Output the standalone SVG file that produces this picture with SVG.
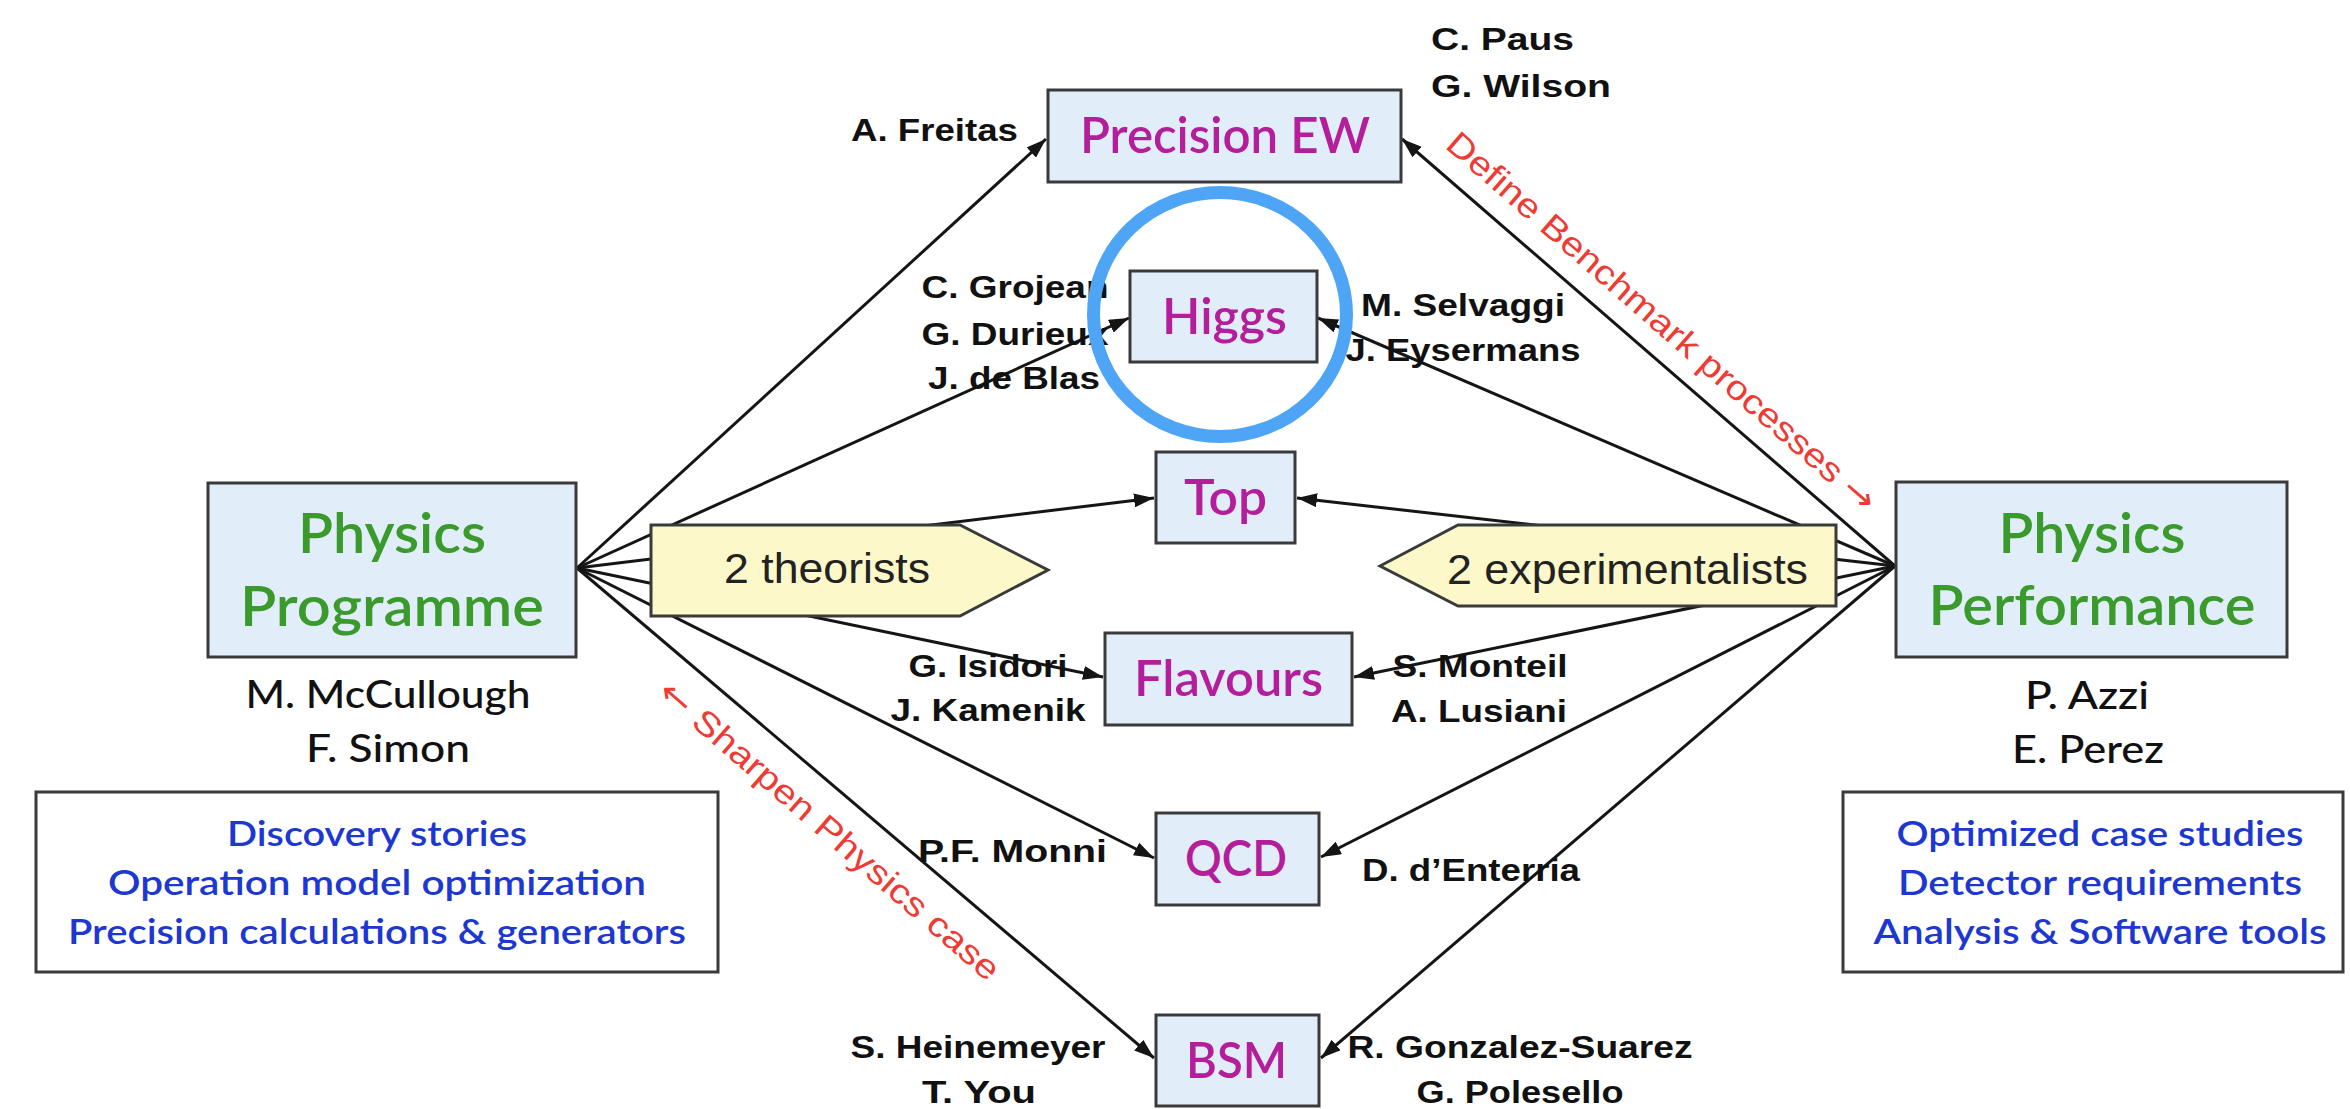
<svg xmlns="http://www.w3.org/2000/svg" width="2350" height="1109" viewBox="0 0 2350 1109">
<defs>
<marker id="ah" viewBox="0 0 20 14" refX="20" refY="7" markerWidth="20" markerHeight="14" markerUnits="userSpaceOnUse" orient="auto">
<path d="M0,0 L20,7 L0,14 z" fill="#151515"/>
</marker>
<style>
.box{fill:#E1EEFA;stroke:#3a3a3a;stroke-width:3}
.note-box{fill:#ffffff;stroke:#3a3a3a;stroke-width:3}
.hex{fill:#FCF8C9;stroke:#3a3a3a;stroke-width:3}
.lbl{font-family:Lato,"Open Sans",sans-serif;fill:#B41E9B;text-anchor:middle;font-size:49px;font-weight:600}
.main{font-family:Lato,"Open Sans",sans-serif;fill:#3A9A2C;text-anchor:middle;font-size:56px;font-weight:600}
.name{font-family:"Liberation Sans",Arial,sans-serif;font-weight:bold;font-size:32px;fill:#111}
.mid{text-anchor:middle}
.lead{font-family:Lato,"Open Sans",sans-serif;font-size:39px;fill:#111;text-anchor:middle;font-weight:500}
.note{font-family:Lato,"Open Sans",sans-serif;font-size:35px;fill:#1C37D2;text-anchor:middle;font-weight:600}
.red{font-family:"Liberation Sans",Arial,sans-serif;font-size:34px;fill:#EE3B33}
.arr{font-family:"DejaVu Sans",sans-serif}
.hext{font-family:"Liberation Sans",Arial,sans-serif;font-size:43px;fill:#222}
.con line{stroke:#151515;stroke-width:3;marker-end:url(#ah)}
</style>
</defs>
<rect width="2350" height="1109" fill="#ffffff"/>

<g id="connectors" class="con">
<line x1="577" y1="568" x2="1046" y2="139"/>
<line x1="577" y1="568" x2="1129" y2="318"/>
<line x1="577" y1="568" x2="1154" y2="498"/>
<line x1="577" y1="568" x2="1103" y2="677"/>
<line x1="577" y1="568" x2="1154" y2="858"/>
<line x1="577" y1="568" x2="1154" y2="1058"/>
<line x1="1895" y1="566" x2="1402" y2="139"/>
<line x1="1895" y1="566" x2="1318" y2="318"/>
<line x1="1895" y1="566" x2="1297" y2="498"/>
<line x1="1895" y1="566" x2="1354" y2="677"/>
<line x1="1895" y1="566" x2="1321" y2="857"/>
<line x1="1895" y1="566" x2="1321" y2="1058"/>
</g>

<g id="theorists">
<polygon class="hex" points="651,525 960,525 1048,570 960,616 651,616"/>
<text class="hext" x="724" y="583" textLength="206" lengthAdjust="spacingAndGlyphs">2 theorists</text>
</g>
<g id="experimentalists">
<polygon class="hex" points="1380,566 1458,525 1836,525 1836,606 1458,606"/>
<text class="hext" x="1447" y="584" textLength="361" lengthAdjust="spacingAndGlyphs">2 experimentalists</text>
</g>

<g id="physics-programme">
<rect class="box" x="208" y="483" width="368" height="174"/>
<text class="main" x="392" y="553" textLength="188" lengthAdjust="spacingAndGlyphs">Physics</text>
<text class="main" x="392" y="626" textLength="304" lengthAdjust="spacingAndGlyphs">Programme</text>
<text class="lead" x="388" y="708" textLength="285" lengthAdjust="spacingAndGlyphs">M. McCullough</text>
<text class="lead" x="388" y="762" textLength="164" lengthAdjust="spacingAndGlyphs">F. Simon</text>
</g>

<g id="physics-performance">
<rect class="box" x="1896" y="482" width="391" height="175"/>
<text class="main" x="2092" y="553" textLength="187" lengthAdjust="spacingAndGlyphs">Physics</text>
<text class="main" x="2092" y="625" textLength="327" lengthAdjust="spacingAndGlyphs">Performance</text>
<text class="lead" x="2087" y="709" textLength="124" lengthAdjust="spacingAndGlyphs">P. Azzi</text>
<text class="lead" x="2088" y="763" textLength="152" lengthAdjust="spacingAndGlyphs">E. Perez</text>
</g>

<g id="programme-tasks">
<rect class="note-box" x="36" y="792" width="682" height="180"/>
<text class="note" x="377" y="846" textLength="300" lengthAdjust="spacingAndGlyphs">Discovery stories</text>
<text class="note" x="377" y="895" textLength="538" lengthAdjust="spacingAndGlyphs">Operation model optimization</text>
<text class="note" x="377" y="944" textLength="618" lengthAdjust="spacingAndGlyphs">Precision calculations &amp; generators</text>
</g>

<g id="performance-tasks">
<rect class="note-box" x="1843" y="792" width="500" height="180"/>
<text class="note" x="2100" y="846" textLength="407" lengthAdjust="spacingAndGlyphs">Optimized case studies</text>
<text class="note" x="2100" y="895" textLength="404" lengthAdjust="spacingAndGlyphs">Detector requirements</text>
<text class="note" x="2100" y="944" textLength="453" lengthAdjust="spacingAndGlyphs">Analysis &amp; Software tools</text>
</g>

<g id="precision-ew">
<rect class="box" x="1048" y="90" width="353" height="92"/>
<text class="lbl" x="1225" y="153" textLength="290" lengthAdjust="spacingAndGlyphs">Precision EW</text>
<text class="name" x="851" y="141" textLength="167" lengthAdjust="spacingAndGlyphs">A. Freitas</text>
<text class="name" x="1431" y="50" textLength="143" lengthAdjust="spacingAndGlyphs">C. Paus</text>
<text class="name" x="1431" y="97" textLength="180" lengthAdjust="spacingAndGlyphs">G. Wilson</text>
</g>

<g id="higgs">
<rect class="box" x="1130" y="271" width="187" height="91"/>
<text class="lbl" x="1224.5" y="334" textLength="125" lengthAdjust="spacingAndGlyphs">Higgs</text>
<text class="name mid" x="1015" y="298" textLength="187" lengthAdjust="spacingAndGlyphs">C. Grojean</text>
<text class="name mid" x="1015" y="345" textLength="187" lengthAdjust="spacingAndGlyphs">G. Durieux</text>
<text class="name mid" x="1014" y="389" textLength="172" lengthAdjust="spacingAndGlyphs">J. de Blas</text>
<text class="name mid" x="1463" y="316" textLength="204" lengthAdjust="spacingAndGlyphs">M. Selvaggi</text>
<text class="name mid" x="1463" y="361" textLength="235" lengthAdjust="spacingAndGlyphs">J. Eysermans</text>
</g>

<g id="top">
<rect class="box" x="1156" y="452" width="139" height="91"/>
<text class="lbl" x="1225.5" y="515" textLength="83" lengthAdjust="spacingAndGlyphs">Top</text>
</g>

<g id="flavours">
<rect class="box" x="1105" y="633" width="247" height="92"/>
<text class="lbl" x="1228.5" y="696" textLength="189" lengthAdjust="spacingAndGlyphs">Flavours</text>
<text class="name mid" x="988" y="677" textLength="159" lengthAdjust="spacingAndGlyphs">G. Isidori</text>
<text class="name mid" x="988" y="721" textLength="195" lengthAdjust="spacingAndGlyphs">J. Kamenik</text>
<text class="name mid" x="1480" y="677" textLength="175" lengthAdjust="spacingAndGlyphs">S. Monteil</text>
<text class="name mid" x="1479" y="722" textLength="176" lengthAdjust="spacingAndGlyphs">A. Lusiani</text>
</g>

<g id="qcd">
<rect class="box" x="1156" y="813" width="163" height="92"/>
<text class="lbl" x="1236" y="876" textLength="102" lengthAdjust="spacingAndGlyphs">QCD</text>
<text class="name" x="918" y="862" textLength="189" lengthAdjust="spacingAndGlyphs">P.F. Monni</text>
<text class="name" x="1362" y="881" textLength="218" lengthAdjust="spacingAndGlyphs">D. d’Enterria</text>
</g>

<g id="bsm">
<rect class="box" x="1156" y="1015" width="163" height="91"/>
<text class="lbl" x="1236.5" y="1078" textLength="101" lengthAdjust="spacingAndGlyphs">BSM</text>
<text class="name mid" x="978" y="1058" textLength="255" lengthAdjust="spacingAndGlyphs">S. Heinemeyer</text>
<text class="name mid" x="979" y="1103" textLength="114" lengthAdjust="spacingAndGlyphs">T. You</text>
<text class="name mid" x="1520" y="1058" textLength="345" lengthAdjust="spacingAndGlyphs">R. Gonzalez-Suarez</text>
<text class="name mid" x="1520" y="1103" textLength="207" lengthAdjust="spacingAndGlyphs">G. Polesello</text>
</g>

<g id="annotations">
<text class="red" transform="translate(1444,147) rotate(41.1)" textLength="558" lengthAdjust="spacingAndGlyphs">Define Benchmark processes <tspan class="arr">→</tspan></text>
<text class="red" transform="translate(656,695) rotate(40.9)" textLength="439" lengthAdjust="spacingAndGlyphs"><tspan class="arr">←</tspan> Sharpen Physics case</text>
</g>

<g id="highlight">
<ellipse cx="1220" cy="314.5" rx="126.5" ry="122" fill="none" stroke="#4FA5F5" stroke-width="13"/>
</g>
</svg>
